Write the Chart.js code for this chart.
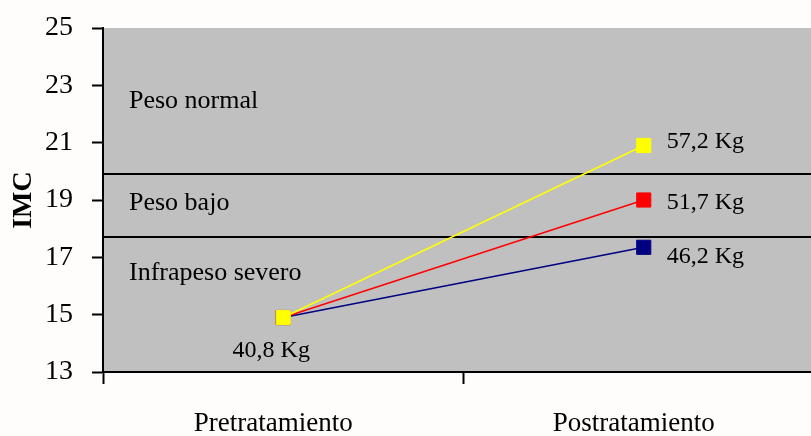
<!DOCTYPE html>
<html lang="es">
<head>
  <meta charset="UTF-8">
  <title>IMC pre y postratamiento</title>
  <script src="https://cdn.jsdelivr.net/npm/chart.js"></script>
  <style>
    html, body {
      margin: 0;
      padding: 0;
      overflow: hidden;
      background: #fefdfb;
    }
    #grafico {
      width: 835px;
      height: 436px;
    }
  </style>
</head>
<body>

  <!-- El área del gráfico es algo más ancha que la ventana, como en el original -->
  <div id="grafico">
    <canvas id="imcChart" width="835" height="436"></canvas>
  </div>

  <script>
    // Categorías del eje X
    const etapas = ['Pretratamiento', 'Postratamiento'];

    // IMC de cada paciente (serie amarilla, roja y azul)
    const imcAmarillo = [14.9, 20.9];
    const imcRojo = [14.9, 19.0];
    const imcAzul = [14.9, 17.35];

    // Pesos rotulados junto a los puntos
    const pesoInicial = '40,8 Kg';
    const pesosFinales = ['57,2 Kg', '51,7 Kg', '46,2 Kg'];

    // Límites entre zonas de IMC (líneas horizontales) y nombres de las zonas
    const limites = [19.9, 17.7];
    const zonas = ['Peso normal', 'Peso bajo', 'Infrapeso severo'];

    // Eje Y
    const imcMin = 13;
    const imcMax = 25;
    const imcPaso = 2;

    const fuente = "'Liberation Serif', 'Times New Roman', serif";

    // Fondo gris, líneas de zonas y rótulos
    const fondoYZonas = {
      id: 'fondoYZonas',
      beforeDraw(chart) {
        const { ctx, chartArea: a } = chart;
        ctx.save();
        ctx.fillStyle = '#c0c0c0';
        ctx.fillRect(a.left, a.top, a.right - a.left, a.bottom - a.top);
        ctx.restore();
      },
      beforeDatasetsDraw(chart) {
        const { ctx, chartArea: a, scales: { y } } = chart;
        ctx.save();
        ctx.strokeStyle = '#000';
        ctx.lineWidth = 2;
        limites.forEach(v => {
          const py = Math.round(y.getPixelForValue(v));
          ctx.beginPath();
          ctx.moveTo(a.left, py);
          ctx.lineTo(a.right, py);
          ctx.stroke();
        });

        const y1 = y.getPixelForValue(limites[0]);
        const y2 = y.getPixelForValue(limites[1]);
        ctx.fillStyle = '#000';
        ctx.font = '26px ' + fuente;
        ctx.textAlign = 'left';
        ctx.textBaseline = 'alphabetic';
        ctx.fillText(zonas[0], a.left + 26, y1 - 66);
        ctx.fillText(zonas[1], a.left + 26, y1 + 36);
        ctx.fillText(zonas[2], a.left + 26, y2 + 43);
        ctx.restore();
      },
      afterDatasetsDraw(chart) {
        const { ctx } = chart;
        ctx.save();
        ctx.fillStyle = '#000';
        ctx.font = '24px ' + fuente;
        ctx.textBaseline = 'alphabetic';

        // peso inicial, debajo del punto común
        const p0 = chart.getDatasetMeta(0).data[0];
        ctx.textAlign = 'center';
        ctx.fillText(pesoInicial, p0.x - 12, p0.y + 39);

        // pesos finales, a la derecha de cada punto
        const desplaz = [2, 9, 16];
        ctx.textAlign = 'left';
        pesosFinales.forEach((txt, i) => {
          const p = chart.getDatasetMeta(i).data[1];
          ctx.fillText(txt, p.x + 23, p.y + desplaz[i]);
        });
        ctx.restore();
      }
    };

    function serie(datos, color) {
      return {
        data: datos,
        borderColor: color,
        backgroundColor: color,
        borderWidth: 1.5,
        pointStyle: 'rect',
        pointRadius: 10,
        pointBorderWidth: 1,
        pointBorderColor: color,
        tension: 0
      };
    }

    const ctx = document.getElementById('imcChart').getContext('2d');
    new Chart(ctx, {
      type: 'line',
      data: {
        labels: etapas,
        // la amarilla va primero para quedar encima en el punto común
        datasets: [
          serie(imcAmarillo, '#ffff00'),
          serie(imcRojo, '#ff0000'),
          serie(imcAzul, '#000080')
        ]
      },
      options: {
        responsive: false,
        animation: false,
        layout: { padding: { top: 28, right: 0, bottom: 0, left: 0 } },
        plugins: {
          legend: { display: false },
          tooltip: { enabled: false }
        },
        scales: {
          x: {
            offset: true,
            grid: {
              offset: true,
              drawOnChartArea: false,
              drawTicks: true,
              tickLength: 12,
              tickColor: '#000',
              tickWidth: 2
            },
            border: { color: '#000', width: 2 },
            ticks: {
              color: '#000',
              font: { family: fuente, size: 27 },
              padding: 24,
              labelOffset: -10,
              maxRotation: 0
            },
            afterFit(scale) { scale.height = 64; }
          },
          y: {
            min: imcMin,
            max: imcMax,
            ticks: {
              stepSize: imcPaso,
              color: '#000',
              font: { family: fuente, size: 28 },
              padding: 19
            },
            grid: {
              drawOnChartArea: false,
              tickLength: 11,
              tickColor: '#000',
              tickWidth: 2
            },
            border: { color: '#000', width: 2 },
            title: {
              display: true,
              text: 'IMC',
              color: '#000',
              font: { family: fuente, size: 28, weight: 'bold' },
              padding: { top: 7, bottom: 0 }
            },
            afterFit(scale) {
              scale.width = 103;
              scale.paddingTop = 0;
              scale.paddingBottom = 0;
            }
          }
        }
      },
      plugins: [fondoYZonas]
    });
  </script>

</body>
</html>
